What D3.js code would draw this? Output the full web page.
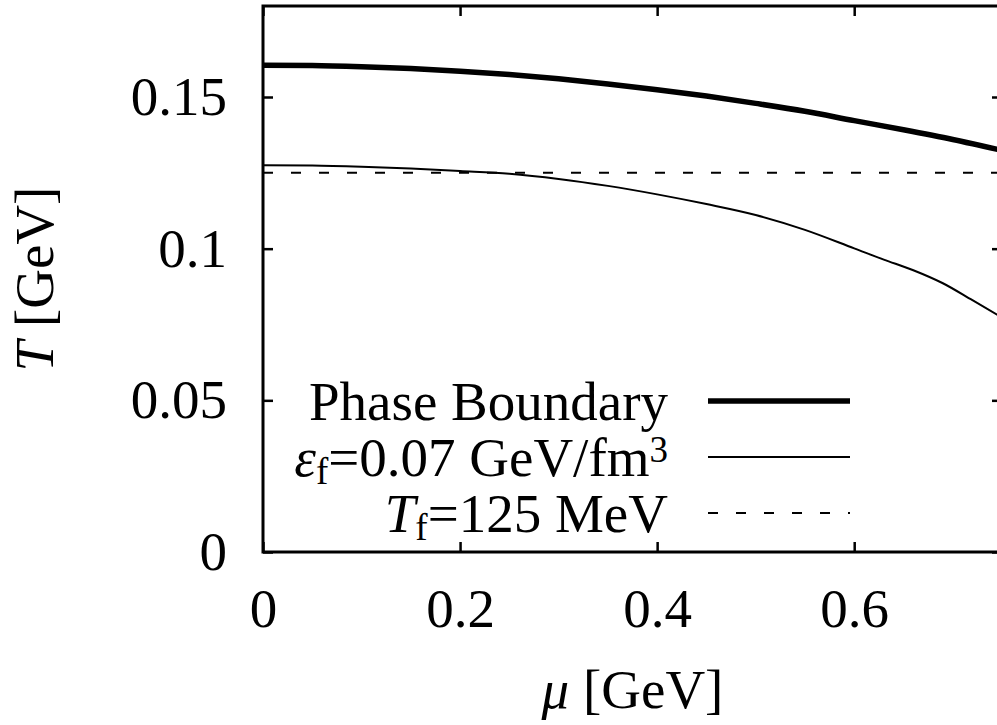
<!DOCTYPE html>
<html>
<head>
<meta charset="utf-8">
<script src="https://cdn.jsdelivr.net/npm/d3@7"></script>
<style>
  html, body { margin: 0; padding: 0; background: #fff; }
  svg { display: block; }
  text { font-family: "Liberation Serif", "Times New Roman", serif; fill: #000; }
</style>
</head>
<body>
<svg id="chart" width="997" height="725"></svg>
<script>
// Chemical potential grid [GeV] and temperatures [GeV]
const muPhase = [0, 0.05, 0.1, 0.15, 0.2, 0.25, 0.3, 0.35, 0.4, 0.45, 0.5, 0.55, 0.6, 0.65, 0.7, 0.75];
const tPhase  = [0.1605, 0.1604, 0.1600, 0.1594, 0.1585, 0.1574, 0.1560, 0.1543, 0.1524, 0.1503, 0.1479, 0.1453, 0.1422, 0.1392, 0.1360, 0.1324];

const muEps = [0, 0.05, 0.1, 0.15, 0.2, 0.25, 0.3, 0.35, 0.4, 0.45, 0.5, 0.55, 0.6, 0.63, 0.66, 0.69, 0.72, 0.75];
const tEps  = [0.1275, 0.1274, 0.1270, 0.1264, 0.1256, 0.1247, 0.1230, 0.1207, 0.1179, 0.1147, 0.1111, 0.1062, 0.1001, 0.0964, 0.0929, 0.0886, 0.0830, 0.0773];

const tFreeze = 0.125;   // T_f = 125 MeV
const muRange = [0, 0.75];

const xTicks = [0, 0.2, 0.4, 0.6];
const yTicks = [0, 0.05, 0.1, 0.15];

const svg = d3.select("#chart");
const L = 263, R = 1002, T = 6, B = 552;
const FS = 55;

const x = d3.scaleLinear().domain([0, 0.75]).range([L, R]);
const y = d3.scaleLinear().domain([0, 0.18]).range([B, T]);

svg.append("defs").append("clipPath").attr("id", "plotClip")
  .append("rect").attr("x", L).attr("y", T).attr("width", R - L).attr("height", B - T);

// axes with inward ticks on all four sides
function styleAxis(g, labels) {
  g.select(".domain").remove();
  g.selectAll(".tick line").attr("stroke", "#000").attr("stroke-width", 2.5);
  if (labels) g.selectAll(".tick text").attr("font-size", FS).attr("font-family", "Liberation Serif");
  else g.selectAll(".tick text").remove();
}
const fmt = d => String(d);

svg.append("g").attr("transform", `translate(0,${B})`)
  .call(d3.axisBottom(x).tickValues(xTicks).tickSize(-10).tickPadding(36).tickFormat(fmt))
  .call(g => styleAxis(g, true));
svg.append("g").attr("transform", `translate(0,${T})`)
  .call(d3.axisTop(x).tickValues(xTicks).tickSize(-10).tickFormat(fmt))
  .call(g => styleAxis(g, false));
svg.append("g").attr("transform", `translate(${L},0)`)
  .call(d3.axisLeft(y).tickValues(yTicks).tickSize(-10).tickPadding(36).tickFormat(fmt))
  .call(g => styleAxis(g, true));
svg.append("g").attr("transform", `translate(${R},0)`)
  .call(d3.axisRight(y).tickValues(yTicks).tickSize(-10).tickFormat(fmt))
  .call(g => styleAxis(g, false));

// curves
const line = d3.line().x(d => x(d[0])).y(d => y(d[1])).curve(d3.curveMonotoneX);
const plot = svg.append("g").attr("clip-path", "url(#plotClip)");

plot.append("path")
  .attr("d", line(muPhase.map((m, i) => [m, tPhase[i]])))
  .attr("fill", "none").attr("stroke", "#000").attr("stroke-width", 5.5);

plot.append("path")
  .attr("d", line(muEps.map((m, i) => [m, tEps[i]])))
  .attr("fill", "none").attr("stroke", "#000").attr("stroke-width", 2);

plot.append("path")
  .attr("d", d3.line().x(d => x(d[0])).y(d => y(d[1]))(muRange.map(m => [m, tFreeze])))
  .attr("fill", "none").attr("stroke", "#000").attr("stroke-width", 2)
  .attr("stroke-dasharray", "10,18");

// frame
svg.append("rect").attr("x", L).attr("y", T).attr("width", R - L).attr("height", B - T)
  .attr("fill", "none").attr("stroke", "#000").attr("stroke-width", 3);

// legend
const legend = svg.append("g");
const textX = 668, lineX0 = 708, lineX1 = 850;
const rows = [
  { yc: 401, width: 5.5, dash: null },
  { yc: 457, width: 2, dash: null },
  { yc: 513, width: 2, dash: "10,18" }
];
rows.forEach(r => {
  legend.append("line").attr("x1", lineX0).attr("x2", lineX1)
    .attr("y1", r.yc).attr("y2", r.yc)
    .attr("stroke", "#000").attr("stroke-width", r.width)
    .attr("stroke-dasharray", r.dash);
});

legend.append("text").attr("x", textX).attr("y", rows[0].yc + 19)
  .attr("text-anchor", "end").attr("font-size", FS).text("Phase Boundary");

const t2 = legend.append("text").attr("x", textX).attr("y", rows[1].yc + 19)
  .attr("text-anchor", "end").attr("font-size", FS);
t2.append("tspan").attr("font-style", "italic").text("ε");
t2.append("tspan").attr("font-size", 37).attr("dy", 8).text("f");
t2.append("tspan").attr("dy", -8).text("=0.07 GeV/fm");
t2.append("tspan").attr("font-size", 37).attr("dy", -14).text("3");

const t3 = legend.append("text").attr("x", textX).attr("y", rows[2].yc + 19)
  .attr("text-anchor", "end").attr("font-size", FS);
t3.append("tspan").attr("font-style", "italic").text("T");
t3.append("tspan").attr("font-size", 37).attr("dy", 8).text("f");
t3.append("tspan").attr("dy", -8).text("=125 MeV");

// axis titles
const xt = svg.append("text").attr("x", (L + R) / 2).attr("y", 708)
  .attr("text-anchor", "middle").attr("font-size", FS);
xt.append("tspan").attr("font-style", "italic").text("μ");
xt.append("tspan").text(" [GeV]");

const yt = svg.append("text")
  .attr("transform", `translate(53,${(T + B) / 2}) rotate(-90)`)
  .attr("text-anchor", "middle").attr("font-size", FS);
yt.append("tspan").attr("font-style", "italic").text("T");
yt.append("tspan").text(" [GeV]");
</script>
</body>
</html>
